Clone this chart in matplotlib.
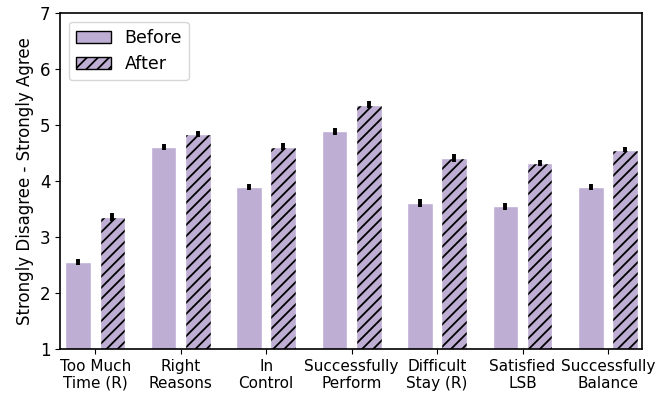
import numpy as np
import matplotlib.pyplot as plt
from matplotlib.patches import Patch

categories = ["Too Much\nTime (R)", "Right\nReasons", "In\nControl", "Successfully\nPerform",
              "Difficult\nStay (R)", "Satisfied\nLSB", "Successfully\nBalance"]
before_mean = [2.55, 4.61, 3.89, 4.89, 3.61, 3.55, 3.89]
after_mean = [3.36, 4.84, 4.61, 5.36, 4.41, 4.32, 4.56]
before_err = [0.05, 0.05, 0.06, 0.06, 0.07, 0.06, 0.06]
after_err = [0.07, 0.06, 0.06, 0.06, 0.07, 0.06, 0.05]

plt.rcParams["hatch.linewidth"] = 1.3
color = "#beaed4"
x = np.arange(len(categories))
w = 0.3

fig, ax = plt.subplots(figsize=(6.69, 3.96), dpi=100)
fig.subplots_adjust(left=0.09, right=0.96, top=0.967, bottom=0.119)

ax.bar(x - 0.2, before_mean, w, color=color, edgecolor="white", linewidth=1)
# hatched layer first (black hatch), then a thin white outline on top
ax.bar(x + 0.2, after_mean, w, color=color, edgecolor="black", hatch="///", linewidth=0)
ax.bar(x + 0.2, after_mean, w, fill=False, edgecolor="white", linewidth=1)

ax.errorbar(x - 0.2, before_mean, yerr=before_err, fmt="none", ecolor="black", elinewidth=2.8)
ax.errorbar(x + 0.2, after_mean, yerr=after_err, fmt="none", ecolor="black", elinewidth=2.8)

ax.set_ylim(1, 7)
ax.set_xlim(-0.41, 6.4)
ax.set_xticks(x)
ax.set_xticklabels(categories, fontsize=11)
ax.tick_params(axis="y", labelsize=12)
ax.set_ylabel("Strongly Disagree - Strongly Agree", fontsize=12)
for s in ax.spines.values():
    s.set_linewidth(1.2)

handles = [Patch(facecolor=color, edgecolor="black", label="Before"),
           Patch(facecolor=color, edgecolor="black", hatch="///", label="After")]
ax.legend(handles=handles, loc="upper left", fontsize=12.5)

plt.savefig("out.png", dpi=100)
